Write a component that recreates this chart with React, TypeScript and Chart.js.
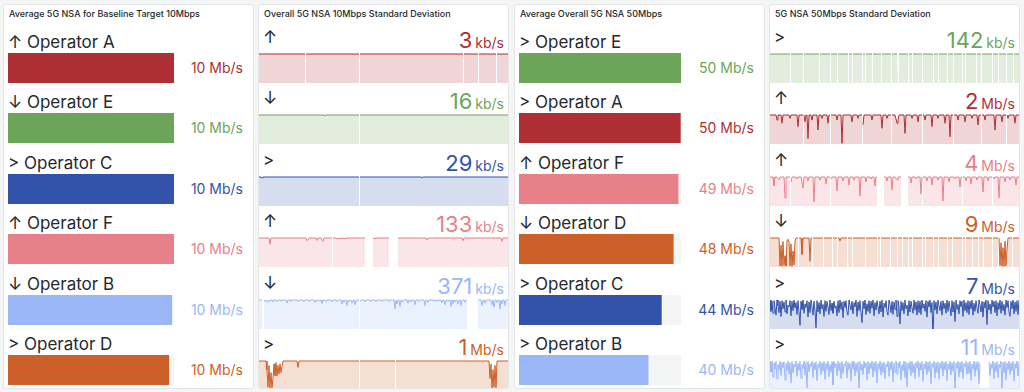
import React, { useEffect, useRef } from 'react';
import { Chart, registerables } from 'chart.js';

Chart.register(...registerables);

// ---------------- data ----------------
const panelTitles = [
  'Average 5G NSA for Baseline Target 10Mbps',
  'Overall 5G NSA 10Mbps Standard Deviation',
  'Average Overall 5G NSA 50Mbps',
  '5G NSA 50Mbps Standard Deviation',
];

// Panel 1: bar gauge (Mb/s)
const p1Labels = ['↑ Operator A', '↓ Operator E', '> Operator C', '↑ Operator F', '↓ Operator B', '> Operator D'];
const p1Values = [10.12, 10.11, 10.1, 10.1, 9.98, 9.8];
const p1Max = 10.12;
const p1Unit = 'Mb/s';

// Panel 3: bar gauge (Mb/s)
const p3Labels = ['> Operator E', '> Operator A', '↑ Operator F', '↓ Operator D', '> Operator C', '> Operator B'];
const p3Values = [50.2, 50.1, 49.4, 47.9, 44.2, 40.1];
const p3Max = 50.3;
const p3Unit = 'Mb/s';

// Panel 2: stat + sparkline (250 samples each)
const p2Arrows = ['↑', '↓', '>', '↑', '↓', '>'];
const p2Values = [3, 16, 29, 133, 371, 1];
const p2Units = ['kb/s', 'kb/s', 'kb/s', 'kb/s', 'kb/s', 'Mb/s'];

const s2A = [
  3,3,3,3,3, 3,3,3,3,3, 3,3,3,3,3, 3,3,3,3,3, 3,3,3,3,3,
  3,3,3,3,3, 3,3,3,3,3, 3,3,3,3,3, 3,3,3,3,3, 3,3,3,3,3,
  3,3,3,3,3, 3,3,3,3,3, 3,3,3,3,3, 3,3,3,3,3, 3,3,3,3,3,
  3,3,3,3,3, 3,3,3,3,3, 3,3,3,3,3, 3,3,3,3,3, 3,3,3,3,3,
  3,3,3,3,3, 3,3,3,3,3, 3,3,3,3,3, 3,3,3,3,3, 3,3,3,3,3,
  3,3,3,3,3, 3,3,3,3,3, 3,3,3,3,3, 3,3,3,3,3, 3,3,3,3,3,
  3,3,3,3,3, 3,3,3,3,3, 3,3,3,3,3, 3,3,3,3,3, 3,3,3,3,3,
  3,3,3,3,3, 3,3,3,3,3, 3,3,3,3,3, 3,3,3,3,3, 3,3,3,3,3,
  3,3,3,3,3, 3,3,3,3,3, 3,3,3,3,3, 3,3,3,3,3, 3,3,3,3,3,
  3,3,3,3,3, 3,3,3,3,3, 3,3,3,3,3, 3,3,3,3,3, 3,3,3,3,3,
];
const g2A = [46, 100, 204, 219, 237];

const s2E = [
  16,16,16,16,16, 16,16,16,16,16, 16,16,16,16,16, 16,16,16,16,16, 16,16,16,16,16,
  16,16,16,16,16, 16,16,16,16,16, 16,16,16,16,16, 16,16,16,16,16, 16,16,16,16,16,
  16,16,16,16,16, 16,16,16,16,16, 16,16,16,16,16, 16,15.5,16,16,16, 16,16,16,16,16,
  16,16,16,16,16, 16,16,16,16,16, 16,16,16,16,16, 16,16,16,16,16, 16,16,16,16,16,
  16,16,16,16,16, 16,16,16,16,16, 16,16,16,16,16, 16,16,16,16,16, 16,16,16,16,16,
  16,16,16,16,16, 16,16,16,16,16, 16,16,16,16,16, 16,16,16,16,16, 16,16,16,16,16,
  16,16,16,16,16, 16,16,16,16,16, 16,16,16,16,16, 16,16,16,16,16, 16,16,16,16,16,
  16,16,16,16,16, 16,16,16,16,16, 16,16,16,16,16, 16,16,16,16,16, 16,16,16,16,16,
  16,16,16,16,16, 16,16,16,16,16, 16,16,16,16,16, 16,16,16,16,16, 16,16,16,16,16,
  16,16,16,16,16, 16,16,16,16,16, 16,16,16,16,16, 16,16,16,16,16, 16,16,16,16,16,
];
const g2E = [100];

const s2C = [
  29,29,29,28.2,29, 29,29,29,29,29, 29,29,29,29,29, 29,29,29,29,29, 29,29,29,29,29,
  29,29,29,29,29, 29,29,29,29,29, 29,29,29,29,29, 29,29,29,29,29, 29,29,29,29,29,
  29,29,29,29,29, 29,29,29,29,29, 29,29,29,29,29, 29,29,29,29,29, 29,29,29,29,29,
  29,29,29,29,29, 29,29,29,29,29, 29,29,29,29,29, 29,29,29,29,29, 29,29,29,29,29,
  29,29,29,29,29, 29,29,29,29,29, 29,29,29,29,29, 29,29,29,29,29, 29,29,29,29,29,
  29,29,29,29,29, 29,29,29,29,29, 29,29,29,29,29, 29,29,29,29,29, 29,29,29,29,29,
  29,29,29,29,29, 29,29,29,29,29, 29,29,29,28.3,29, 29,29,29,29,29, 29,29,29,29,29,
  29,29,29,29,29, 29,29,29,29,29, 29,29,29,29,29, 29,29,29,29,29, 29,29,29,29,29,
  29,29,29,29,29, 29,29,29,29,29, 29,29,29,29,29, 29,29,29,29,29, 29,29,29,29,29,
  29,29,29,29,29, 29,29,29,29,29, 29,29,29,29,29, 29,29,29,29,29, 29,29,29,29,29,
];
const g2C = [100];

const s2F = [
  133,133,133,133,133, 133,133,133,133,133, 133,105,133,133,133, 133,133,133,133,133, 133,133,133,133,133,
  133,133,133,133,133, 133,133,133,133,133, 133,133,133,133,133, 133,133,133,133,133, 133,133,133,121,124,
  133,133,133,133,133, 133,133,133,122,133, 133,133,133,133,118, 133,133,133,133,133, 133,133,133,133,133,
  133,133,133,128,133, 127,133,133,128,133, 133,129,133,133,133, 133,133,133,133,133, 133,133,133,133,133,
  133,133,133,133,133, 133,133,null,null,null, null,null,null,null,133, 133,128,133,133,133, 133,133,133,133,133,
  133,133,133,133,133, 133,null,null,null,null, null,null,null,null,133, 133,133,133,133,133, 133,133,133,133,133,
  133,133,133,133,133, 133,133,133,133,133, 133,133,133,133,133, 133,133,133,124,133, 133,133,133,133,133,
  133,133,133,133,133, 133,133,133,133,133, 133,133,133,133,133, 133,133,133,133,133, 133,133,133,133,133,
  133,133,133,133,120, 133,133,133,133,133, 133,133,133,133,133, 133,133,133,133,133, 133,133,133,133,133,
  133,133,133,133,133, 133,133,133,133,133, 133,133,133,133,133, 133,133,133,117,133, 133,133,133,133,133,
];
const g2F = [73];

const s2B = [
  371,371,371,371,371, 371,350,371,371,340, 371,358,371,371,345, 371,371,371,352,371, 371,371,355,371,371,
  371,371,371,335,371, 371,371,355,371,371, 371,371,371,371,350, 371,371,371,371,371, 348,371,371,371,371,
  352,371,371,371,371, 371,340,371,371,355, 371,371,371,330,371, 371,371,350,371,371, 371,371,371,350,371,
  371,371,371,352,371, 371,371,371,320,371, 345,371,371,300,371, 350,371,371,330,371, 371,310,371,371,371,
  371,350,371,371,371, 371,345,371,371,371, 371,371,352,371,371, 371,371,348,371,371, 371,371,371,350,371,
  371,371,371,371,371, 352,371,371,371,371, 371,260,371,320,371, 371,290,371,340,371, 371,371,371,371,330,
  371,371,345,371,371, 371,310,371,371,371, 352,371,371,371,371, 371,300,371,371,340, 371,371,371,371,371,
  371,350,371,371,355, 371,371,371,335,371, 371,310,371,371,350, 371,371,290,371,325, 371,345,371,371,320,
  371,371,300,371,371, 371,340,371,371,null, null,null,null,null,null, null,null,null,null,371, 371,371,371,300,371,
  371,330,371,371,371, 371,371,371,310,371, 280,371,371,340,371, 371,255,371,320,371, 371,300,371,371,371,
];
const g2B = [4, 100];

const s2D = [
  1,1,1,1,1, 1,1,1,0.7,0.1, 0.85,0.05,0.6,0.08,0.4, 0.9,0.5,0.95,0.48,0.85, 0.55,0.9,0.6,0.8,1,
  1,1,1,1,1, 1,1,1,1,1, 1,1,1,1,0.78, 1,1,1,1,1, 1,1,1,1,1,
  1,1,1,1,1, 1,1,1,1,1, 1,1,1,1,1, 1,1,1,1,1, 1,1,1,1,1,
  1,1,1,1,1, 1,1,1,1,1, 1,1,1,1,1, 1,1,1,1,1, 1,1,1,1,1,
  1,1,1,1,1, 1,1,1,1,1, 1,1,1,1,1, 1,1,1,1,1, 1,1,1,1,1,
  1,1,1,1,1, 1,1,1,1,1, 1,1,1,1,1, 1,1,1,1,1, 1,1,1,1,1,
  1,1,1,1,1, 1,1,1,1,1, 1,1,1,1,1, 1,1,1,1,1, 1,1,1,1,1,
  1,1,1,1,1, 1,1,1,1,1, 1,1,1,1,1, 1,1,1,1,1, 1,1,1,1,1,
  1,1,1,1,1, 1,1,1,1,1, 1,1,1,1,1, 1,1,1,1,1, 1,1,1,1,1,
  1,1,1,1,1, 1,0.4,0.9,0.05,0.7, 0.1,0.85,0.08,1,1, 1,1,1,1,1, 1,1,1,1,1,
];
const g2D = [100, 136];

// Panel 4: stat + sparkline (250 samples each)
const p4Arrows = ['>', '↑', '↑', '↓', '>', '>'];
const p4Values = [142, 2, 4, 9, 7, 11];
const p4Units = ['kb/s', 'Mb/s', 'Mb/s', 'Mb/s', 'Mb/s', 'Mb/s'];

const s4E = [
  142,142,142,142,142, 142,142,142,142,142, 142,142,142,142,142, 142,142,142,142,142, 142,142,142,142,142,
  142,142,142,142,142, 142,142,142,142,142, 142,142,142,142,142, 142,142,142,142,142, 142,142,142,142,142,
  142,142,142,142,142, 142,142,142,142,142, 142,142,142,142,142, 142,142,142,142,142, 142,142,142,142,142,
  142,142,142,142,142, 142,142,142,142,142, 142,142,142,142,142, 142,142,142,142,142, 142,142,142,142,142,
  142,142,142,142,142, 142,142,142,142,142, 142,142,142,142,142, 142,142,142,142,142, 142,142,142,142,142,
  142,142,142,142,142, 142,142,142,142,142, 142,142,142,142,142, 142,142,142,142,142, 142,142,142,142,142,
  142,142,142,142,142, 142,142,142,142,142, 142,142,139,142,142, 142,142,142,142,142, 142,142,142,142,142,
  142,142,142,142,142, 142,142,142,142,142, 142,142,142,142,142, 142,142,142,142,142, 142,142,142,142,142,
  142,142,142,142,142, 142,142,142,142,142, 142,142,142,142,142, 142,142,142,142,142, 142,142,142,142,142,
  142,142,142,142,142, 142,142,142,142,142, 142,142,142,142,142, 142,142,142,142,142, 142,142,142,142,142,
];
const g4E = [20,33,49,60,67,78,82,92,95,102,111,121,128,138,142,152,163,168,177,183,192,195,206,211,222,228,236,243];

const s4A = [
  2,2,2,2,2, 2,2,1.79,2,2, 2,2,1.66,2,2, 2,2,2,2,2, 1.86,2,2,2,2,
  2,2,2,1.52,2, 2,2,2,2,2, 1.72,2,2,1.03,2, 2,2,1.79,2,2, 2,2,2,1.38,2,
  2,2,1.86,2,2, 2,2,2,1.66,2, 2,2,2,2,2, 2,2,1.79,2,2, 2,2,0.83,2,2,
  2,2,2,2,2, 2,2,1.72,2,2, 2,2,2,1.86,2, 2,2,2,1.59,2, 2,2,2,2,2,
  2,2,1.79,2,2, 2,2,2,2,2, 2,2,1.45,2,2, 2,2,1.86,2,2, 2,2,2,2,2,
  2,2,1.66,1.79,2, 2,2,2,2,2, 1.24,2,2,2,2, 2,2,1.86,2,2, 2,2,2,1.72,2,
  2,2,2,2,2, 1.79,2,2,2,2, 2,2,1.52,2,2, 2,2,2,1.86,2, 2,2,2,2,2,
  1.66,2,2,2,2, 1.1,2,2,2,2, 2,2,2,1.79,2, 2,2,2,2,2, 1.72,2,2,2,2,
  2,2,1.86,2,2, 2,2,2,1.59,2, 2,2,2,2,2, 1.79,2,2,2,2, 2,2,2,2,2,
  1.38,2,2,2,2, 2,2,1.72,2,2, 2,2,2,1.86,2, 2,2,2,2,2, 1.66,2,2,2,2,
];
const g4A = [33, 60, 92, 121, 152, 183, 211, 236];

const s4F = [
  4,4,4,4,2.76, 4,4,4,4,3.59, 4,4,4,4,4, 1.1,4,4,4,4, 4,3.31,4,4,4,
  4,4,3.73,4,4, 4,4,4,2.48,4, 4,4,4,3.45,4, 4,4,4,4,0.55, 4,4,4,4,4,
  3.59,4,4,4,4, 4,3.04,4,4,4, 4,3.73,4,4,4, 4,4,2.07,4,4, 4,4,4,3.45,4,
  4,4,4,4,2.9, 4,4,4,4,3.59, 4,4,4,4,4, 1.38,4,4,4,4, 4,3.31,4,4,4,
  4,3.73,4,4,4, 2.76,4,4,null,null, null,null,null,null,4, 4,4,3.45,4,4, 4,4,2.21,4,4,
  4,4,3.59,4,4, 4,4,null,null,null, null,null,null,4,4, 4,3.17,4,4,4, 4,3.73,4,4,4,
  4,1.66,4,4,4, 4,4,3.45,4,4, 4,4,2.9,4,4, 4,4,4,3.59,4, 4,4,4,0.69,4,
  4,4,4,4,3.31, 4,4,4,4,4, 3.73,4,4,4,4, 2.62,4,4,4,4, 4,3.45,4,4,4,
  4,3.04,4,4,4, 4,4,3.59,4,4, 4,4,4,1.93,4, 4,4,4,3.45,4, 4,4,4,4,3.73,
  4,4,4,4,1.1, 4,4,4,4,4, 3.31,4,4,4,4, 3.59,4,4,4,4, 4,2.9,4,4,4,
];
const g4F = [20, 60, 152, 192, 222];

const s4D = [
  9,9,9,9,9, 9,9,9,9,9, 0.3,6.8,0.2,7.9,0.5, 3.5,0.3,8.2,8.6,7.8, 0.4,7.2,0.2,5.0,0.6,
  8.0,9,9,9,9, 9,9,3.9,9,9, 9,9,9,9,9, 1.8,9,9,9,9, 9,9,9,9,9,
  9,9,9,9,9, 9,9,9,9,9, 9,9,9,9,9, 9,9,9,9,9, 8.1,9,9,9,9,
  9,9,9,9,9, 9,9,9,9,9, 9,9,9,9,9, 9,9,9,9,9, 9,9,9,9,9,
  9,9,9,9,9, 9,9,9,9,9, 9,9,9,9,9, 9,9,9,9,9, 9,9,9,9,9,
  9,9,9,9,9, 9,9,9,9,9, 9,9,9,9,9, 9,9,9,9,9, 9,9,9,9,9,
  9,9,9,9,9, 9,9,9,9,9, 9,9,9,9,9, 9,9,9,9,9, 9,9,9,9,9,
  9,9,9,9,9, 9,9,9,9,9, 9,9,9,9,9, 9,9,9,9,9, 9,9,9,9,9,
  9,9,9,9,9, 9,9,9,9,9, 9,9,9,9,9, 9,9,9,9,9, 9,9,9,9,9,
  9,9,9,9,9, 0.5,7.5,0.3,6.0,0.2, 8.0,0.4,5.5,9,9, 9,9,9,9,9, 9,9,9,9,9,
];
const g4D = [28,42,53,62,67,77,82,95,107,110,120,127,132,138,142,152,155,163,168,177,182,192,195,202,208,213,222,228,242];

const s4C = [
  7.0,5.2,6.8,4.9,6.9, 5.8,4.6,7.0,6.1,5.0, 6.8,4.4,6.9,5.6,6.7, 5.1,7.0,4.8,6.2,5.9, 6.9,4.5,6.8,5.3,7.0,
  5.7,6.6,4.7,6.9,5.2, 3.0,6.8,5.5,7.0,4.9, 6.4,5.8,6.9,4.3,6.7, 5.0,7.0,6.0,4.6,6.8, 5.4,2.6,6.9,5.1,6.6,
  4.8,7.0,5.6,6.3,4.4, 6.9,5.2,6.8,5.9,4.7, 7.0,5.3,6.5,4.9,6.8, 5.7,6.1,4.5,6.9,5.0, 7.0,5.5,6.7,4.2,6.8,
  5.8,6.9,5.1,4.6,7.0, 6.2,5.4,6.8,4.8,6.6, 5.9,7.0,4.4,6.7,5.3, 6.9,5.0,3.4,6.8,5.6, 7.0,4.7,6.4,5.2,6.9,
  4.9,6.8,5.7,7.0,4.5, 6.6,5.4,6.9,6.0,4.8, 6.8,5.1,7.0,4.3,6.5, 5.8,6.9,5.2,4.6,7.0, 6.3,5.0,6.8,4.7,6.7,
  5.5,7.0,4.4,6.9,5.9, 3.2,6.8,5.3,6.6,4.8, 7.0,5.6,6.2,4.5,6.9, 5.1,6.8,5.8,4.9,7.0, 5.4,6.7,4.6,6.9,5.0,
  6.8,4.7,7.0,5.7,6.4, 5.2,6.9,4.3,6.8,5.9, 7.0,5.0,6.6,0.6,6.9, 5.4,6.7,4.8,7.0,6.1, 5.3,6.8,4.6,6.9,5.6,
  6.5,4.9,7.0,5.2,6.8, 5.8,4.5,6.9,5.1,6.7, 3.6,7.0,5.5,6.3,4.8, 6.9,5.9,6.8,4.4,7.0, 5.3,6.6,5.0,6.9,4.7,
  6.8,5.6,7.0,4.6,6.5, 5.2,6.9,5.8,4.9,7.0, 6.2,5.1,6.8,4.3,6.7, 5.7,7.0,3.1,6.9,5.4, 6.4,4.8,7.0,5.9,6.8,
  5.0,6.9,4.5,6.6,5.5, 7.0,4.9,6.8,5.3,6.3, 4.6,7.0,5.8,6.9,5.1, 4.4,6.8,5.6,7.0,4.8, 6.7,5.2,6.9,4.7,7.0,
];
const g4C: number[] = [];

const s4B = [
  10.9,8.4,11.0,7.2,10.6, 9.1,10.9,6.8,10.2,8.9, 11.0,7.6,10.7,9.4,10.8, 6.5,10.4,8.7,11.0,7.9, 10.6,5.8,10.9,8.2,10.3,
  9.6,11.0,7.4,10.5,8.8, 10.9,6.9,10.2,9.2,11.0, 7.7,10.7,4.6,10.9,8.5, 10.4,9.7,11.0,7.1,10.6, 8.9,10.8,6.4,10.3,9.3,
  11.0,7.8,10.6,8.6,10.9, 6.7,10.5,9.0,11.0,7.3, 10.2,8.4,10.8,5.4,10.9, 9.5,10.4,7.6,11.0,8.7, 10.6,6.9,10.9,8.1,10.3,
  9.8,11.0,7.0,10.7,8.9, 10.4,6.3,10.9,9.1,11.0, 7.5,10.5,8.5,10.8,3.6, 10.9,8.8,10.3,7.8,11.0, 9.4,10.6,6.6,10.9,8.0,
  10.5,9.2,11.0,7.2,10.7, 8.6,10.9,5.9,10.4,9.0, 11.0,7.7,10.6,8.3,10.8, 6.8,10.3,9.6,11.0,7.4, 10.7,8.9,10.9,6.1,10.5,
  8.4,11.0,7.9,10.6,9.3, 10.9,6.6,10.2,8.7,11.0, 7.1,10.8,4.9,10.5,9.0, 10.9,7.6,11.0,8.2,10.4, 6.9,10.7,9.4,11.0,7.3,
  10.6,8.8,10.9,6.2,10.3, 9.1,11.0,7.8,10.7,8.5, 10.9,5.6,10.4,9.5,11.0, 7.0,10.6,8.3,10.8,6.7, 10.5,9.2,11.0,7.5,10.7,
  8.9,10.9,6.4,10.3,9.0, 11.0,7.7,10.6,8.6,10.9, 3.2,10.5,9.3,11.0,7.2, 10.7,8.4,10.9,6.8,10.4, 9.6,11.0,7.9,10.6,8.1,
  10.9,6.5,10.3,9.1,11.0, 7.4,10.7,8.8,10.9,5.7, 10.5,null,null,null,null, null,null,null,null,10.8, 7.6,10.4,9.2,11.0,6.9,
  10.6,8.5,10.9,7.1,10.3, 9.4,11.0,4.4,10.7,8.2, 10.9,6.6,10.5,9.0,11.0, 7.8,10.6,8.7,10.9,6.3, 10.4,9.3,11.0,7.5,10.8,
];
const g4B: number[] = [];

// sparkline y-axis minimums (scale option, same units as each series)
const p2AxisMin = [0, 0, 0, 0, 0, 0];
const p4AxisMin = [0, 0.8, 0, 0, 2.4, 4.2];

// ---------------- styles ----------------
const FONT = 'Inter, "Noto Sans", "DejaVu Sans", sans-serif';
const TEXT = '#24292e';
const RED = '#ad2f33';
const GREEN = '#6ca55a';
const BLUE = '#3353aa';
const LRED = '#e8808a';
const LBLUE = '#9ab7f7';
const ORANGE = '#cd5f28';
const TRACK = '#f4f5f5';

const p1Colors = [RED, GREEN, BLUE, LRED, LBLUE, ORANGE];
const p2Colors = [RED, GREEN, BLUE, LRED, LBLUE, ORANGE];
const p3Colors = [GREEN, RED, LRED, ORANGE, BLUE, LBLUE];
const p4Colors = [GREEN, RED, LRED, ORANGE, BLUE, LBLUE];

const p2Series = [s2A, s2E, s2C, s2F, s2B, s2D];
const p2Gaps = [g2A, g2E, g2C, g2F, g2B, g2D];
const p4Series = [s4E, s4A, s4F, s4D, s4C, s4B];
const p4Gaps = [g4E, g4A, g4F, g4D, g4C, g4B];

const PANEL_LEFTS = [3, 258, 514, 769];
const PANEL_TOP = 4;
const PANEL_W = 251;
const PANEL_H = 385;
const INNER_W = PANEL_W - 2;

function rgba(hex: string, a: number) {
  const n = parseInt(hex.slice(1), 16);
  return `rgba(${(n >> 16) & 255},${(n >> 8) & 255},${n & 255},${a})`;
}

function BarGauge({ value, max, color, width, height }: { value: number; max: number; color: string; width: number; height: number }) {
  const ref = useRef<HTMLCanvasElement>(null);
  useEffect(() => {
    const chart = new Chart(ref.current as HTMLCanvasElement, {
      type: 'bar',
      data: {
        labels: [''],
        datasets: [
          { data: [value], backgroundColor: color, borderWidth: 0, barPercentage: 1, categoryPercentage: 1, grouped: false, order: 0 } as any,
          { data: [max], backgroundColor: TRACK, borderWidth: 0, barPercentage: 1, categoryPercentage: 1, grouped: false, order: 1 } as any,
        ],
      },
      options: {
        indexAxis: 'y',
        animation: false,
        responsive: false,
        events: [],
        layout: { padding: 0 },
        plugins: { legend: { display: false }, tooltip: { enabled: false } },
        scales: {
          x: { display: false, min: 0, max },
          y: { display: false },
        },
      },
    });
    return () => chart.destroy();
  }, [value, max, color]);
  return <canvas ref={ref} width={width} height={height} style={{ display: 'block', width, height }} />;
}

function Sparkline({ values, gaps, color, min, width, height }: { values: (number | null)[]; gaps: number[]; color: string; min: number; width: number; height: number }) {
  const ref = useRef<HTMLCanvasElement>(null);
  useEffect(() => {
    const pts: { x: number; y: number | null }[] = values.map((v, i) => ({ x: i, y: v }));
    gaps.forEach((g) => pts.push({ x: g + 0.5, y: null }));
    pts.sort((a, b) => a.x - b.x);
    const top = Math.max(...(values.filter((v) => v !== null) as number[]));
    const chart = new Chart(ref.current as HTMLCanvasElement, {
      type: 'line',
      data: {
        datasets: [
          {
            data: pts as any,
            borderColor: color,
            backgroundColor: rgba(color, 0.2),
            borderWidth: 1,
            pointRadius: 0,
            fill: 'start',
            tension: 0,
            spanGaps: false,
          },
        ],
      },
      options: {
        animation: false,
        responsive: false,
        events: [],
        layout: { padding: 0 },
        plugins: { legend: { display: false }, tooltip: { enabled: false } },
        scales: {
          x: { type: 'linear', display: false, min: 0, max: values.length - 1 },
          y: { display: false, min, max: top + (top - min) * 0.035 },
        },
      },
    });
    return () => chart.destroy();
  }, [values, gaps, color, min]);
  return <canvas ref={ref} width={width} height={height} style={{ display: 'block', width, height }} />;
}

function Panel({ left, title, children }: { left: number; title: string; children: React.ReactNode }) {
  return (
    <div
      style={{
        position: 'absolute',
        left,
        top: PANEL_TOP,
        width: PANEL_W,
        height: PANEL_H,
        boxSizing: 'border-box',
        border: '1px solid #e4e5e7',
        borderRadius: 3,
        background: '#ffffff',
        overflow: 'hidden',
      }}
    >
      <div
        style={{
          position: 'absolute',
          left: 5,
          top: 3,
          fontSize: 9,
          lineHeight: '12px',
          fontWeight: 500,
          color: TEXT,
          whiteSpace: 'nowrap',
        }}
      >
        {title}
      </div>
      {children}
    </div>
  );
}

function BarGaugePanel({ left, title, labels, values, max, unit, colors, barWidth }: {
  left: number; title: string; labels: string[]; values: number[]; max: number; unit: string; colors: string[]; barWidth: number;
}) {
  return (
    <Panel left={left} title={title}>
      {labels.map((lab, i) => {
        const barTop = Math.round(48 + 60.4 * i);
        return (
          <React.Fragment key={i}>
            <div style={{ position: 'absolute', left: 4, top: barTop - 21, fontSize: 17, lineHeight: '20px', color: TEXT, whiteSpace: 'nowrap' }}>
              {lab}
            </div>
            <div style={{ position: 'absolute', left: 4, top: barTop }}>
              <BarGauge value={values[i]} max={max} color={colors[i]} width={barWidth} height={30} />
            </div>
            <div style={{ position: 'absolute', right: 10, top: barTop, height: 30, fontSize: 14, lineHeight: '30px', color: colors[i], whiteSpace: 'nowrap' }}>
              {Math.round(values[i])} {unit}
            </div>
          </React.Fragment>
        );
      })}
    </Panel>
  );
}

function StatPanel({ left, title, arrows, values, units, series, gaps, mins, colors }: {
  left: number; title: string; arrows: string[]; values: number[]; units: string[]; series: (number | null)[][]; gaps: number[][]; mins: number[]; colors: string[];
}) {
  return (
    <Panel left={left} title={title}>
      {arrows.map((ar, i) => {
        const sparkTop = Math.round(48 + 61.4 * i);
        return (
          <React.Fragment key={i}>
            <div style={{ position: 'absolute', left: 4, top: sparkTop - 26, fontSize: 17, lineHeight: '20px', color: TEXT }}>{ar}</div>
            <div style={{ position: 'absolute', right: 4, top: sparkTop - 26, lineHeight: '26px', color: colors[i], whiteSpace: 'nowrap' }}>
              <span style={{ fontSize: 22 }}>{values[i]}</span>
              <span style={{ fontSize: 14, marginLeft: 3 }}>{units[i]}</span>
            </div>
            <div style={{ position: 'absolute', left: 0, top: sparkTop }}>
              <Sparkline values={series[i]} gaps={gaps[i]} color={colors[i]} min={mins[i]} width={INNER_W} height={30} />
            </div>
          </React.Fragment>
        );
      })}
    </Panel>
  );
}

export default function App() {
  return (
    <div
      style={{
        position: 'fixed',
        left: 0,
        top: 0,
        width: 1024,
        height: 392,
        background: '#f4f5f5',
        fontFamily: FONT,
        overflow: 'hidden',
      }}
    >
      <BarGaugePanel left={PANEL_LEFTS[0]} title={panelTitles[0]} labels={p1Labels} values={p1Values} max={p1Max} unit={p1Unit} colors={p1Colors} barWidth={166} />
      <StatPanel left={PANEL_LEFTS[1]} title={panelTitles[1]} arrows={p2Arrows} values={p2Values} units={p2Units} series={p2Series} gaps={p2Gaps} mins={p2AxisMin} colors={p2Colors} />
      <BarGaugePanel left={PANEL_LEFTS[2]} title={panelTitles[2]} labels={p3Labels} values={p3Values} max={p3Max} unit={p3Unit} colors={p3Colors} barWidth={162} />
      <StatPanel left={PANEL_LEFTS[3]} title={panelTitles[3]} arrows={p4Arrows} values={p4Values} units={p4Units} series={p4Series} gaps={p4Gaps} mins={p4AxisMin} colors={p4Colors} />
    </div>
  );
}
